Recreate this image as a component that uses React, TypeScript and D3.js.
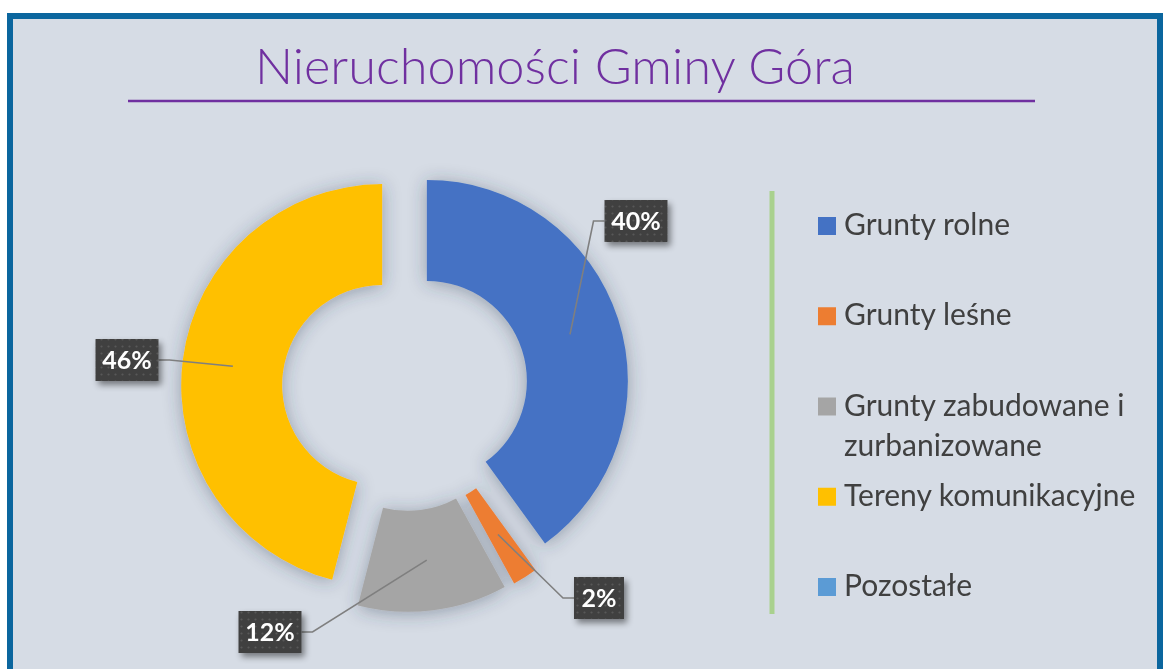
import * as d3 from "d3";

const categories = [
  "Grunty rolne",
  "Grunty leśne",
  "Grunty zabudowane i zurbanizowane",
  "Tereny komunikacyjne",
  "Pozostałe",
];
const shares = [40, 2, 12, 46, 0];
const legendLines = [
  ["Grunty rolne"],
  ["Grunty leśne"],
  ["Grunty zabudowane i", "zurbanizowane"],
  ["Tereny komunikacyjne"],
  ["Pozostałe"],
];
const colors = ["#4472C4", "#ED7D31", "#A5A5A5", "#FFC000", "#5B9BD5"];

// where Excel left each data label box, relative to the pie centre
const labelBoxes = [
  { dx: 231, dy: -167 },
  { dx: 194, dy: 210 },
  { dx: -135, dy: 244 },
  { dx: -278, dy: -28 },
];

const width = 1163;
const height = 669;
const cx = 405;
const cy = 388;
const outerR = 201;
const innerR = 100;
const explode = 23;

const App = () => {
  const pie = d3
    .pie<number>()
    .sort(null)
    .value((d) => d);
  const arcs = pie(shares);

  const arc = d3
    .arc<d3.PieArcDatum<number>>()
    .innerRadius(innerR)
    .outerRadius(outerR);

  const shift = (a: d3.PieArcDatum<number>) => {
    const mid = (a.startAngle + a.endAngle) / 2;
    return [Math.sin(mid) * explode, -Math.cos(mid) * explode];
  };

  const legendY = d3
    .scalePoint()
    .domain(categories)
    .range([226, 587]);

  return (
    <svg
      width={width}
      height={height}
      style={{ position: "absolute", left: 0, top: 0 }}
    >
      <defs>
        <filter id="sliceShadow" x="-30%" y="-30%" width="160%" height="160%">
          <feDropShadow
            dx="0"
            dy="2"
            stdDeviation="9"
            floodColor="#2d3e55"
            floodOpacity="0.4"
          />
        </filter>
        <filter id="boxShadow" x="-30%" y="-30%" width="170%" height="170%">
          <feDropShadow
            dx="3"
            dy="4"
            stdDeviation="3"
            floodColor="#000"
            floodOpacity="0.45"
          />
        </filter>
        <pattern id="dots" width="7" height="7" patternUnits="userSpaceOnUse">
          <rect width="7" height="7" fill="#404040" />
          <circle cx="3.5" cy="3.5" r="1.1" fill="#585858" />
        </pattern>
      </defs>

      <rect x={0} y={0} width={width} height={height} fill="#fff" />
      <rect
        x={10}
        y={16}
        width={1150}
        height={700}
        fill="#D6DCE5"
        stroke="#0B669E"
        strokeWidth={6}
      />

      <text
        x={555}
        y={84}
        textAnchor="middle"
        fill="#7030A0"
        fontFamily="Lato, 'Open Sans', sans-serif"
        fontWeight={300}
        fontSize={50}
        textLength={600}
        lengthAdjust="spacingAndGlyphs"
      >
        Nieruchomości Gminy Góra
      </text>
      <line x1={128} x2={1035} y1={101} y2={101} stroke="#7030A0" strokeWidth={2.5} />

      <g filter="url(#sliceShadow)">
        {arcs.map((a, i) => {
          if (a.value <= 0) return null;
          const [sx, sy] = shift(a);
          return (
            <path
              key={categories[i]}
              d={arc(a) || ""}
              fill={colors[i]}
              transform={`translate(${cx + sx},${cy + sy})`}
            />
          );
        })}
      </g>

      {arcs.map((a, i) => {
        if (a.value <= 0 || !labelBoxes[i]) return null;
        const [sx, sy] = shift(a);
        const mid = (a.startAngle + a.endAngle) / 2;
        const rMid = (innerR + outerR) / 2;
        const ax = cx + sx + Math.sin(mid) * rMid;
        const ay = cy + sy - Math.cos(mid) * rMid;
        const bx = cx + labelBoxes[i].dx;
        const by = cy + labelBoxes[i].dy;
        const label = `${a.value}%`;
        const w = label.length > 2 ? 63 : 50;
        const h = 42;
        const left = ax < bx;
        const edge = left ? bx - w / 2 : bx + w / 2;
        const elbow = left ? edge - 11 : edge + 11;
        return (
          <g key={"lbl" + i}>
            <polyline
              points={`${edge},${by} ${elbow},${by} ${ax},${ay}`}
              fill="none"
              stroke="#7f7f7f"
              strokeWidth={1.6}
            />
            <rect
              x={bx - w / 2}
              y={by - h / 2}
              width={w}
              height={h}
              fill="url(#dots)"
              filter="url(#boxShadow)"
            />
            <text
              x={bx}
              y={by + 8.5}
              textAnchor="middle"
              fill="#fff"
              fontFamily="Lato, 'Open Sans', sans-serif"
              fontWeight="bold"
              fontSize={25}
            >
              {label}
            </text>
          </g>
        );
      })}

      <line x1={772} x2={772} y1={191} y2={614} stroke="#A9D18E" strokeWidth={5} />

      {categories.map((c, i) => {
        const y = legendY(c) ?? 0;
        return (
          <g key={"leg" + c}>
            <rect x={818} y={y - 9} width={18} height={18} fill={colors[i]} />
            <text
              x={844}
              y={y + 9}
              fill="#404040"
              fontFamily="Lato, 'Open Sans', sans-serif"
              fontSize={30}
            >
              {legendLines[i].map((ln, k) => (
                <tspan key={k} x={844} dy={k === 0 ? 0 : 40}>
                  {ln}
                </tspan>
              ))}
            </text>
          </g>
        );
      })}
    </svg>
  );
};

export default App;
